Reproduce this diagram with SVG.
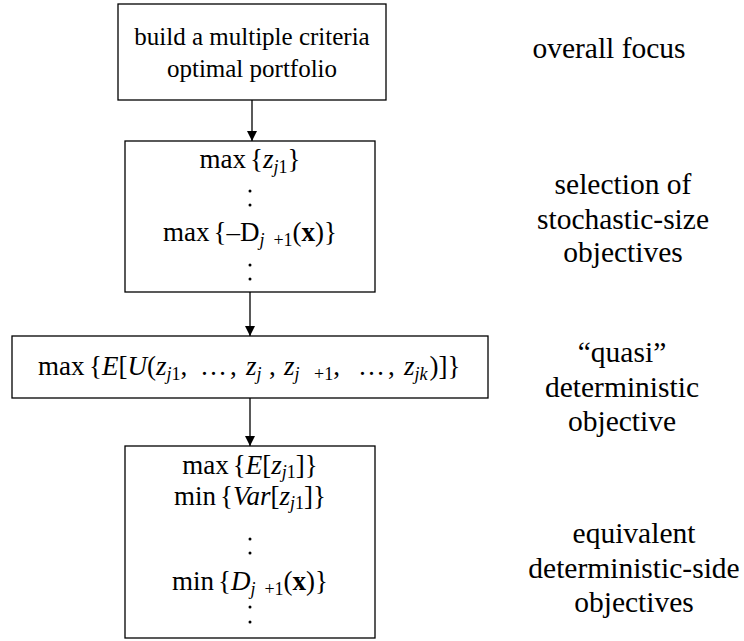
<svg xmlns="http://www.w3.org/2000/svg" width="744" height="641" viewBox="0 0 744 641">
  <style>
    .c { text-anchor: middle; }
    .i { font-style: italic; }
    .b { font-weight: bold; }
    .f { font-size: 27px; }
    .s { font-size: 18px; }
    .lbl { font-size: 29.5px; }
    .box { fill: #fff; stroke: #000; stroke-width: 1.3; }
    .edge { stroke: #000; stroke-width: 1.3; fill: none; marker-end: url(#arrow); }
    .dot { fill: #000; }
  </style>
  <defs>
    <marker id="arrow" viewBox="0 0 10 10" refX="10" refY="5" markerWidth="10" markerHeight="10" markerUnits="userSpaceOnUse" orient="auto">
      <path d="M0,0 L10,5 L0,10 z" fill="#000"/>
    </marker>
  </defs>

  <rect width="744" height="641" fill="#fff"/>

  <g id="connectors">
    <line class="edge" x1="252" y1="100" x2="252" y2="141"/>
    <line class="edge" x1="250" y1="292" x2="250" y2="336"/>
    <line class="edge" x1="250" y1="398" x2="250" y2="446"/>
  </g>

  <g font-family="'Liberation Serif', 'Times New Roman', serif" font-size="25" fill="#000">
    <g id="node-focus">
      <rect class="box" x="118" y="4" width="268" height="96"/>
      <text class="c" x="252" y="45">build a multiple criteria</text>
      <text class="c" x="252" y="77">optimal portfolio</text>
    </g>

    <g id="node-selection">
      <rect class="box" x="125" y="141" width="250" height="151"/>
      <text class="c f" x="250" y="168">max<tspan dx="4">{</tspan><tspan class="i">z</tspan><tspan class="s i" dy="5">j</tspan><tspan class="s">1</tspan><tspan dy="-5">}</tspan></text>
      <circle class="dot" cx="250" cy="191" r="1.5"/>
      <circle class="dot" cx="250" cy="205" r="1.5"/>
      <text class="c f" x="250" y="241">max<tspan dx="4">{–D</tspan><tspan class="s i" dy="5">j</tspan><tspan class="s" xml:space="preserve">  +1</tspan><tspan dy="-5">(</tspan><tspan class="b">x</tspan>)}</text>
      <circle class="dot" cx="250" cy="265" r="1.5"/>
      <circle class="dot" cx="250" cy="279" r="1.5"/>
    </g>

    <g id="node-quasi">
      <rect class="box" x="12" y="336" width="476" height="62"/>
      <text class="f" x="38" y="375">max<tspan x="89">{</tspan><tspan class="i">E</tspan>[<tspan class="i">U</tspan>(<tspan class="i">z</tspan><tspan class="s i" dy="5">j</tspan><tspan class="s">1</tspan><tspan dy="-5">,</tspan><tspan x="200">…</tspan><tspan x="230">,</tspan><tspan class="i" x="246">z</tspan><tspan class="s i" dy="5">j</tspan><tspan x="269" dy="-5">,</tspan><tspan class="i" x="284">z</tspan><tspan class="s i" dy="5">j</tspan><tspan class="s" x="314">+1</tspan><tspan dy="-5">,</tspan><tspan x="358">…</tspan><tspan x="388">,</tspan><tspan class="i" x="404">z</tspan><tspan class="s i" dy="5">jk</tspan><tspan dy="-5" dx="2">)]}</tspan></text>
    </g>

    <g id="node-equivalent">
      <rect class="box" x="125" y="446" width="250" height="192"/>
      <text class="c f" x="250" y="474">max<tspan dx="4">{</tspan><tspan class="i">E</tspan>[<tspan class="i">z</tspan><tspan class="s i" dy="4">j</tspan><tspan class="s">1</tspan><tspan dy="-4">]}</tspan></text>
      <text class="c f" x="250" y="505">min<tspan dx="4">{</tspan><tspan class="i">Var</tspan>[<tspan class="i">z</tspan><tspan class="s i" dy="4">j</tspan><tspan class="s">1</tspan><tspan dy="-4">]}</tspan></text>
      <circle class="dot" cx="250" cy="539" r="1.5"/>
      <circle class="dot" cx="250" cy="553" r="1.5"/>
      <text class="c f" x="250" y="590">min<tspan dx="4">{</tspan><tspan class="i">D</tspan><tspan class="s i" dy="5">j</tspan><tspan class="s" xml:space="preserve">  +1</tspan><tspan dy="-5">(</tspan><tspan class="b">x</tspan>)}</text>
      <circle class="dot" cx="250" cy="607" r="1.5"/>
      <circle class="dot" cx="250" cy="622" r="1.5"/>
    </g>

    <g id="labels" class="lbl">
      <text class="c" x="609" y="58">overall focus</text>
      <text class="c" x="623" y="194">selection of</text>
      <text class="c" x="623" y="229">stochastic-size</text>
      <text class="c" x="623" y="262">objectives</text>
      <text class="c" x="622" y="362">“quasi”</text>
      <text class="c" x="622" y="397">deterministic</text>
      <text class="c" x="622" y="431">objective</text>
      <text class="c" x="634" y="543">equivalent</text>
      <text class="c" x="634" y="578">deterministic-side</text>
      <text class="c" x="634" y="612">objectives</text>
    </g>
  </g>
</svg>
